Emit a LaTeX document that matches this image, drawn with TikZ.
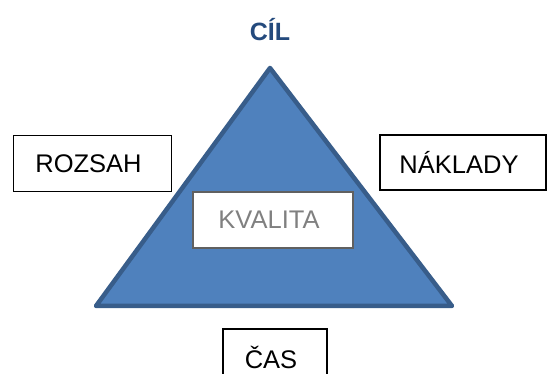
\documentclass[tikz,border=0pt]{standalone}
\usepackage{fontspec}
\setmainfont{Liberation Sans}
\usepackage{tikz}
\definecolor{triblue}{RGB}{79,129,189}
\definecolor{triedge}{RGB}{56,93,138}
\definecolor{titleblue}{RGB}{36,74,125}

\begin{document}
\begin{tikzpicture}[x=1pt,y=1pt,
		box/.style={draw,line width=1.3pt,fill=white,inner sep=0pt,font=\fontsize{25.5}{30}\selectfont,
			execute at end node=\hspace*{8pt}}]
			\useasboundingbox (0,0) rectangle (550,374);
			\clip (0,0) rectangle (550,374);
			\coordinate (top) at (270,306);
			\coordinate (left) at (96,68);
			\coordinate (right) at (452,68);
			
			\draw [line width=4.5pt,line join=round,draw=triedge,fill=triblue] (top)--(right)--(left)--cycle;
			
			\node[font=\fontsize{25}{30}\selectfont\bfseries,text=titleblue] (cil) at (270,344) {CÍL};
			
			\node[box,minimum width=158pt,minimum height=56pt] (rozsah) at (92.5,210.5) {ROZSAH};
			\node[box,minimum width=166pt,minimum height=55pt] (naklady) at (463,211.5) {NÁKLADY};
			\node[box,draw=gray!75!black,text=gray,minimum width=160pt,minimum height=56pt] (kvalita) at (273,154) {KVALITA};
			\node[box,minimum width=104pt,minimum height=56pt] (cas) at (275,17) {ČAS};
		\end{tikzpicture}
\end{document}
